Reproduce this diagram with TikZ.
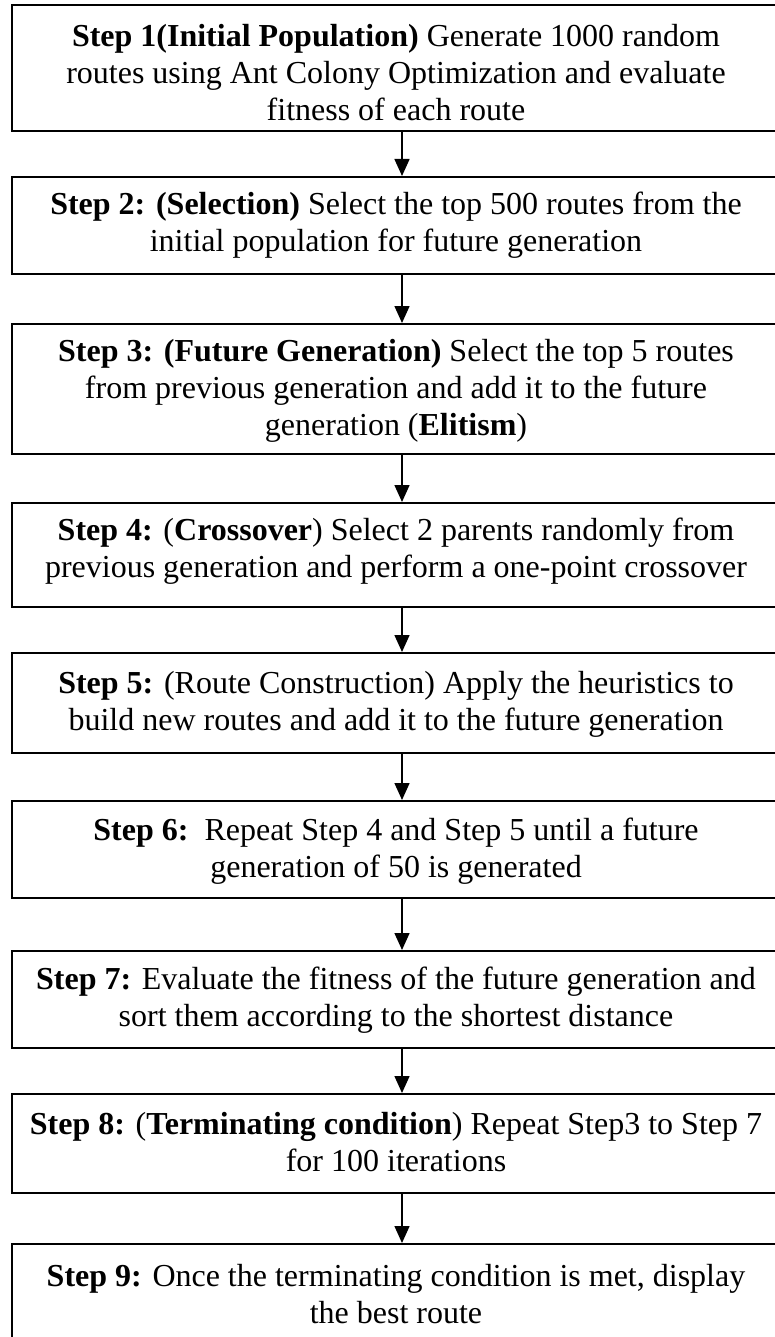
\documentclass[tikz,border=0pt]{standalone}
\usepackage{fontspec}
\setmainfont{Liberation Serif}
\usetikzlibrary{arrows.meta}

\tikzset{
  stepbox/.style={draw=black, line width=1.8pt, rectangle, inner sep=0pt,
                  anchor=north west, minimum width=770pt},
  steptext/.style={align=center, inner sep=0pt,
                   font=\fontsize{32pt}{37pt}\selectfont},
  flow/.style={line width=1.5pt, -{Triangle[width=15pt,length=17pt]}}
}

\begin{document}
\begin{tikzpicture}[x=1pt,y=-1pt]
  \useasboundingbox (0,0) rectangle (775,1337);
  \clip (0,0) rectangle (775,1337);

  % step frames
  \node[stepbox, minimum height=126pt] (s1) at (11,4) {};
  \node[stepbox, minimum height=97pt]  (s2) at (11,176) {};
  \node[stepbox, minimum height=130pt] (s3) at (11,323) {};
  \node[stepbox, minimum height=104pt] (s4) at (11,502) {};
  \node[stepbox, minimum height=100pt] (s5) at (11,652) {};
  \node[stepbox, minimum height=97pt]  (s6) at (11,800) {};
  \node[stepbox, minimum height=97pt]  (s7) at (11,950) {};
  \node[stepbox, minimum height=99pt]  (s8) at (11,1093) {};
  \node[stepbox, minimum height=110pt] (s9) at (11,1243) {};

  % step descriptions
  \node[steptext] (t1) at (396,72.5) {\textbf{Step 1(Initial Population)} Generate 1000 random\\
    routes using Ant Colony Optimization and evaluate\\ fitness of each route};
  \node[steptext] (t2) at (396,225.5) {\textbf{Step 2: (Selection)} Select the top 500 routes from the\\
    initial population for future generation};
  \node[steptext] (t3) at (396,390.5) {\textbf{Step 3: (Future Generation)} Select the top 5 routes\\
    from previous generation and add it to the future\\ generation (\textbf{Elitism})};
  \node[steptext] (t4) at (396,551.5) {\textbf{Step 4:} (\textbf{Crossover}) Select 2 parents randomly from\\
    previous generation and perform a one-point crossover};
  \node[steptext] (t5) at (396,704) {\textbf{Step 5:} (Route Construction) Apply the heuristics to\\
    build new routes and add it to the future generation};
  \node[steptext] (t6) at (396,851.5) {\textbf{Step 6:}\ \ Repeat Step 4 and Step 5 until a future\\
    generation of 50 is generated};
  \node[steptext] (t7) at (396,1000.5) {\textbf{Step 7:} Evaluate the fitness of the future generation and\\
    sort them according to the shortest distance};
  \node[steptext] (t8) at (396,1142) {\textbf{Step 8:} (\textbf{Terminating condition}) Repeat Step3 to Step 7\\
    for 100 iterations};
  \node[steptext] (t9) at (396,1294) {\textbf{Step 9:} Once the terminating condition is met, display\\
    the best route};

  % flow arrows
  \coordinate (ax) at (402,0);
  \draw[flow] (s1.south -| ax) -- (s2.north -| ax);
  \draw[flow] (s2.south -| ax) -- (s3.north -| ax);
  \draw[flow] (s3.south -| ax) -- (s4.north -| ax);
  \draw[flow] (s4.south -| ax) -- (s5.north -| ax);
  \draw[flow] (s5.south -| ax) -- (s6.north -| ax);
  \draw[flow] (s6.south -| ax) -- (s7.north -| ax);
  \draw[flow] (s7.south -| ax) -- (s8.north -| ax);
  \draw[flow] (s8.south -| ax) -- (s9.north -| ax);
\end{tikzpicture}
\end{document}
